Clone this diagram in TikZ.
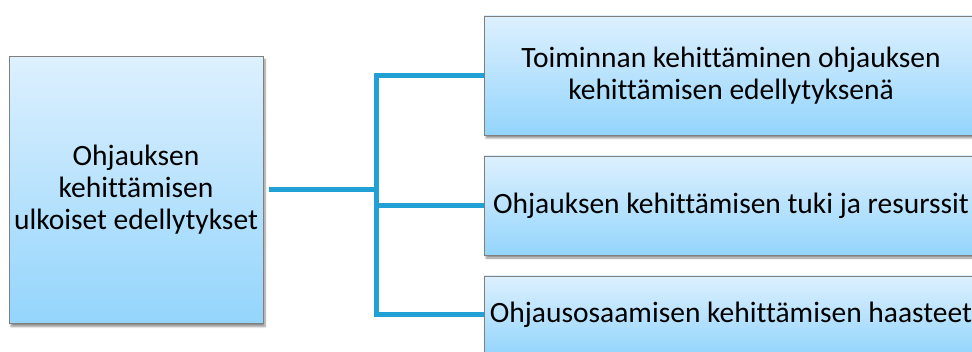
\documentclass[tikz,border=0pt]{standalone}
\usepackage{fontspec}
\setmainfont{Carlito}[Ligatures=CommonOff]
\usetikzlibrary{shadows.blur}
\definecolor{boxtop}{HTML}{DDF0FE}
\definecolor{boxbottom}{HTML}{94D5FC}
\definecolor{boxline}{HTML}{7F7F7F}
\definecolor{linkblue}{HTML}{21A0D6}

\begin{document}
\begin{tikzpicture}[x=1pt, y=-1pt,
	box/.style={draw=boxline, line width=0.8pt, top color=boxtop, bottom color=boxbottom,
		inner sep=0pt, align=center, font=\fontsize{29.5}{32}\selectfont,
		blur shadow={shadow xshift=2pt, shadow yshift=-3pt, shadow blur steps=6, shadow opacity=45}},
	link/.style={draw=linkblue, line width=5pt}]
	\clip (0,0) rectangle (972,352);
	\node[box, minimum width=254pt, minimum height=267pt] (lbox) at (136,190)
		{Ohjauksen\\kehittämisen\\ulkoiset edellytykset};
	\node[box, minimum width=494pt, minimum height=119pt] (b1) at (731,75.5)
		{Toiminnan kehittäminen ohjauksen\\kehittämisen edellytyksenä};
	\node[box, minimum width=494pt, minimum height=99pt] (b2) at (731,205.5)
		{Ohjauksen kehittämisen tuki ja resurssit};
	\node[box, minimum width=494pt, minimum height=78pt] (b3) at (731,315)
		{Ohjausosaamisen kehittämisen haasteet};
	\coordinate (split) at (376,190);
	\draw[link] ([xshift=6pt]lbox.east) -- (split);
	\draw[link] (b1.west) -| (split) |- (b3.west);
	\draw[link] (split |- b2.west) -- (b2.west);
\end{tikzpicture}
\end{document}
